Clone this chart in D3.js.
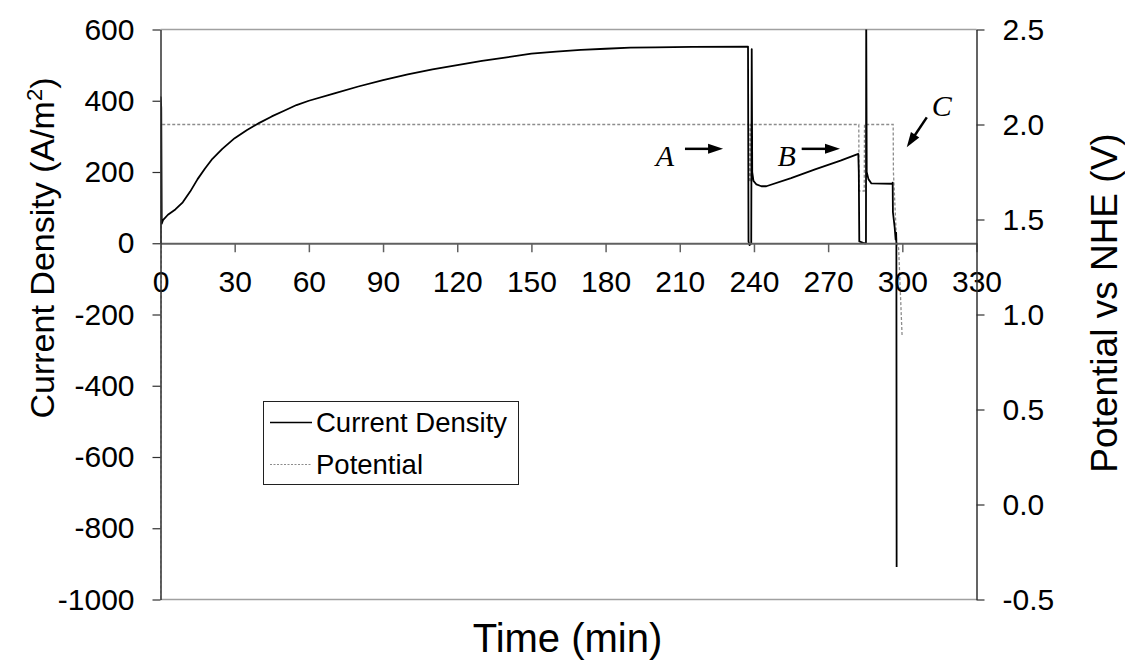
<!DOCTYPE html>
<html>
<head>
<meta charset="utf-8">
<script src="https://cdn.jsdelivr.net/npm/d3@7"></script>
<style>
  body { margin: 0; background: #fff; }
  svg { display: block; }
  text { font-family: "Liberation Sans", Arial, sans-serif; }
</style>
</head>
<body>
<svg id="chart" width="1125" height="662"></svg>
<script>
// ---------------- data ----------------
const timeTicks = [0, 30, 60, 90, 120, 150, 180, 210, 240, 270, 300, 330];
const currentTicks = [600, 400, 200, 0, -200, -400, -600, -800, -1000];
const potentialTicks = [2.5, 2.0, 1.5, 1.0, 0.5, 0.0, -0.5];

// Current density (A/m2) vs time (min)
const currentTime = [0, 0.1, 0.3, 0.5, 1, 3, 6, 9, 12, 15, 18, 21, 25, 30, 35, 40, 45, 50, 55, 60, 70, 80, 90, 100, 110, 120, 130, 140, 150, 160, 170, 180, 190, 200, 215, 237.6,
  237.8, 238.2, 238.9, 239.1, 239.3, 239.8, 241, 243, 245, 255, 265, 275, 282.2,
  282.4, 282.6, 284.6, 285.3, 285.4, 285.6, 286.3, 287.5, 295.9, 296.1, 296.2, 296.9, 297.3, 297.5, 297.6, 297.7];
const currentValue = [0, 410, 380, 55, 65, 80, 95, 115, 145, 180, 210, 237, 265, 295, 318, 338, 356, 372, 388, 400, 420, 440, 458, 474, 488, 500, 512, 522, 532, 538, 543, 546, 549, 550, 551, 552,
  5, -5, 0, 545, 200, 175, 165, 160, 160, 183, 208, 232, 251,
  200, 5, 0, 0, 650, 200, 180, 168, 167, 170, 87, 45, 10, 30, 0, -909];

// Potential (V vs NHE) vs time (min)
const potentialTime = [0, 0.3, 237.9, 238.0, 238.5, 238.6, 282.4, 282.5, 284.6, 284.7, 296.3, 296.4, 297.7, 298.5, 299.9];
const potentialValue = [-0.6, 2.0, 2.0, 1.70, 1.70, 2.0, 2.0, 1.65, 1.65, 2.0, 2.0, 1.75, 1.38, 1.35, 0.89];

const legendLabels = ["Current Density", "Potential"];
const annotationLabels = ["A", "B", "C"];

// ---------------- layout ----------------
const svg = d3.select("#chart");
const mLeft = 160.5, mRight = 976.5, mTop = 29.5, mBottom = 599.5;

const x = d3.scaleLinear().domain([0, 330]).range([mLeft, mRight]);
const y = d3.scaleLinear().domain([-1000, 600]).range([mBottom, mTop]);
const y2 = d3.scaleLinear().domain([-0.5, 2.5]).range([mBottom, mTop]);

svg.append("defs").append("clipPath").attr("id", "clip")
  .append("rect").attr("x", mLeft).attr("y", mTop).attr("width", mRight - mLeft).attr("height", mBottom - mTop);

// frame top and bottom (gray)
svg.append("line").attr("x1", mLeft).attr("x2", mRight).attr("y1", mTop).attr("y2", mTop)
  .attr("stroke", "#a0a0a0").attr("stroke-width", 1.5);
svg.append("line").attr("x1", mLeft).attr("x2", mRight).attr("y1", mBottom).attr("y2", mBottom)
  .attr("stroke", "#a0a0a0").attr("stroke-width", 1.5);

// ---------------- series ----------------
const potData = potentialTime.map((t, i) => [t, potentialValue[i]]);
const curData = currentTime.map((t, i) => [t, currentValue[i]]);

const plot = svg.append("g").attr("clip-path", "url(#clip)");
plot.append("path").datum(potData)
  .attr("fill", "none").attr("stroke", "#8c8c8c").attr("stroke-width", 1.3)
  .attr("stroke-dasharray", "3,2")
  .attr("d", d3.line().x(d => x(d[0])).y(d => y2(d[1])));
plot.append("path").datum(curData)
  .attr("fill", "none").attr("stroke", "#000").attr("stroke-width", 1.8)
  .attr("stroke-linejoin", "round")
  .attr("d", d3.line().x(d => x(d[0])).y(d => y(d[1])));

// ---------------- axes ----------------
const fontTick = "30px";
const ff = '"Liberation Sans", Arial, sans-serif';
const xAxis = svg.append("g").attr("transform", `translate(0,${y(0)})`)
  .call(d3.axisBottom(x).tickValues(timeTicks).tickSize(9).tickSizeOuter(0).tickPadding(18).tickFormat(d => String(d)));
xAxis.select(".domain").attr("stroke", "#606060").attr("stroke-width", 2);
xAxis.selectAll(".tick line").attr("stroke", "#606060").attr("stroke-width", 1.5)
  .filter(d => d === 0).remove();
xAxis.selectAll("text").style("font-size", fontTick).attr("fill", "#000").style("font-family", ff);

const yAxis = svg.append("g").attr("transform", `translate(${mLeft},0)`)
  .call(d3.axisLeft(y).tickValues(currentTicks).tickSize(8).tickSizeOuter(0).tickPadding(18).tickFormat(d => String(d)));
yAxis.select(".domain").attr("stroke", "#303030").attr("stroke-width", 1.5);
yAxis.selectAll(".tick line").attr("stroke", "#303030").attr("stroke-width", 1.2);
yAxis.selectAll("text").style("font-size", fontTick).attr("fill", "#000").style("font-family", ff);

const y2Axis = svg.append("g").attr("transform", `translate(${mRight},0)`)
  .call(d3.axisRight(y2).tickValues(potentialTicks).tickSize(8).tickSizeOuter(0).tickPadding(18).tickFormat(d => d.toFixed(1)));
y2Axis.select(".domain").attr("stroke", "#303030").attr("stroke-width", 1.5);
y2Axis.selectAll(".tick line").attr("stroke", "#303030").attr("stroke-width", 1.2);
y2Axis.selectAll("text").style("font-size", fontTick).attr("fill", "#000").style("font-family", ff);

// ---------------- titles ----------------
svg.append("text").attr("x", (mLeft + mRight) / 2 - 1).attr("y", 652)
  .attr("text-anchor", "middle").style("font-size", "40px").text("Time (min)");

const lt = svg.append("text").attr("transform", `translate(54,248) rotate(-90)`)
  .attr("text-anchor", "middle").style("font-size", "34px");
lt.append("tspan").text("Current Density (A/m");
lt.append("tspan").attr("dy", -12).style("font-size", "22px").text("2");
lt.append("tspan").attr("dy", 12).text(")");

svg.append("text").attr("transform", `translate(1117,303) rotate(-90)`)
  .attr("text-anchor", "middle").style("font-size", "37px").text("Potential vs NHE (V)");

// ---------------- legend ----------------
const lg = svg.append("g");
lg.append("rect").attr("x", 263.5).attr("y", 401.5).attr("width", 255).attr("height", 83)
  .attr("fill", "#fff").attr("stroke", "#202020").attr("stroke-width", 1);
lg.append("line").attr("x1", 270).attr("x2", 312).attr("y1", 422.5).attr("y2", 422.5)
  .attr("stroke", "#000").attr("stroke-width", 1.3);
lg.append("line").attr("x1", 270).attr("x2", 312).attr("y1", 464.5).attr("y2", 464.5)
  .attr("stroke", "#8c8c8c").attr("stroke-width", 1.2).attr("stroke-dasharray", "2,1.5");
lg.append("text").attr("x", 316).attr("y", 432).style("font-size", "27.5px").text(legendLabels[0]);
lg.append("text").attr("x", 316).attr("y", 474).style("font-size", "27.5px").text(legendLabels[1]);

// ---------------- annotations ----------------
const ann = svg.append("g");
const serif = '"Liberation Serif", "Times New Roman", serif';
const labelPos = [[204, 218], [253.2, 218], [315.9, 358]];
annotationLabels.forEach((s, i) => {
  ann.append("text").attr("x", x(labelPos[i][0])).attr("y", y(labelPos[i][1]))
    .attr("text-anchor", "middle").style("font-family", serif).style("font-style", "italic")
    .style("font-size", "30px").text(s);
});
function arrow(t1, v1, t2, v2) {
  const x1 = x(t1), y1 = y(v1), x2 = x(t2), y2p = y(v2);
  const ang = Math.atan2(y2p - y1, x2 - x1);
  const hl = 15, hw = 5;
  const bx = x2 - hl * Math.cos(ang), by = y2p - hl * Math.sin(ang);
  ann.append("line").attr("x1", x1).attr("y1", y1).attr("x2", bx + 2 * Math.cos(ang)).attr("y2", by + 2 * Math.sin(ang))
    .attr("stroke", "#000").attr("stroke-width", 2.5);
  const px = -Math.sin(ang) * hw, py = Math.cos(ang) * hw;
  ann.append("path").attr("d", `M${x2},${y2p}L${bx + px},${by + py}L${bx - px},${by - py}Z`).attr("fill", "#000");
}
arrow(212.1, 265, 227.5, 265);
arrow(259.3, 265, 274.8, 265);
arrow(309.9, 353.4, 301.8, 269.3);
</script>
</body>
</html>
